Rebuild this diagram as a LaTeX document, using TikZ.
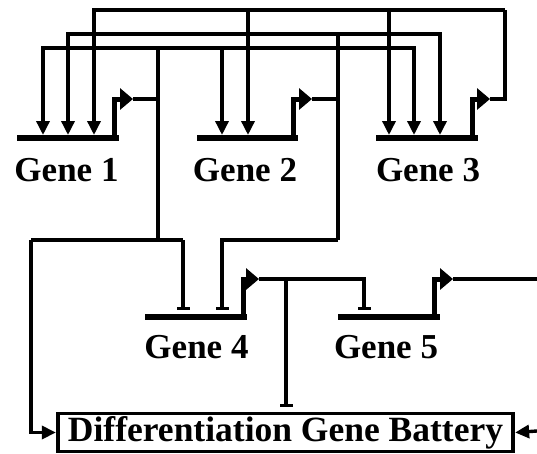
\documentclass[tikz,border=0pt]{standalone}
\usepackage{fontspec}
\setmainfont{Liberation Serif}
\usetikzlibrary{arrows.meta}
\begin{document}
\begin{tikzpicture}[x=1pt,y=-1pt,
  wire/.style={line width=3.4pt},
  genebar/.style={line width=6.5pt},
  prom/.style={line width=5pt,-{Triangle[length=13pt,width=21pt]}},
  act/.style={wire,-{Triangle[length=14pt,width=13pt]}},
  inh/.style={wire,-{Bar[width=13pt]}},
  lab/.style={font=\fontsize{35}{40}\selectfont\bfseries,anchor=base,inner sep=0pt}]
\useasboundingbox (0,0) rectangle (537,453);

% ---- coordinates ----
% gene bars
\coordinate (g1L) at (17,138);  \coordinate (g1R) at (119,138);
\coordinate (g2L) at (197,138); \coordinate (g2R) at (298,138);
\coordinate (g3L) at (376,138); \coordinate (g3R) at (478,138);
\coordinate (g4L) at (145,317); \coordinate (g4R) at (247,317);
\coordinate (g5L) at (338,317); \coordinate (g5R) at (440,317);
% promoter feet and tips
\coordinate (g1f) at (114,138); \coordinate (g1tip) at (133,99);
\coordinate (g2f) at (293,138); \coordinate (g2tip) at (312,99);
\coordinate (g3f) at (472,138); \coordinate (g3tip) at (490,99);
\coordinate (g4f) at (243,317); \coordinate (g4tip) at (259,279);
\coordinate (g5f) at (434,317); \coordinate (g5tip) at (453,279);
% inputs (activation)
\coordinate (g1in1) at (43,135);  \coordinate (g1in2) at (68,135);  \coordinate (g1in3) at (94,135);
\coordinate (g2in1) at (222,135); \coordinate (g2in2) at (248,135);
\coordinate (g3in1) at (389,135); \coordinate (g3in2) at (414,135); \coordinate (g3in3) at (440,135);
% inputs (repression)
\coordinate (g4i1) at (183,310); \coordinate (g4i2) at (222,310);
\coordinate (g5i) at (364,310);
\coordinate (bT) at (286,407);
% junctions
\coordinate (j1top) at (158,48);  \coordinate (j1low) at (158,240);
\coordinate (j2top) at (338,34);  \coordinate (j2low) at (338,240);
\coordinate (j3top) at (505,10);
\coordinate (c31) at (31,240);    \coordinate (c183) at (183,240);
\coordinate (g4br) at (286,279);
\coordinate (g5end) at (537,279);
\coordinate (rin) at (537,431);

% ---- genes ----
\foreach \g in {1,...,5} {
  \draw[genebar] (g\g L) -- (g\g R);
  \draw[prom] (g\g f) |- (g\g tip);
}
\node[lab] (l1) at (66.5,181) {Gene 1};
\node[lab] (l2) at (245,181) {Gene 2};
\node[lab] (l3) at (428,181) {Gene 3};
\node[lab] (l4) at (196.5,358) {Gene 4};
\node[lab] (l5) at (386,358) {Gene 5};

% ---- battery box ----
\node[draw,line width=3.8pt,minimum width=455.5pt,minimum height=38pt,
      inner sep=0pt,text height=24pt,text depth=6pt,
      font=\fontsize{35.5}{40}\selectfont\bfseries] (bat) at (285.5,432.5)
      {Differentiation Gene Battery};

% ---- Gene 1 output ----
\draw[wire] (g1tip) -| (j1top);
\draw[wire] (j1top) -- (j1low);
\draw[act] (j1top) -| (g1in1);
\draw[act] (j1top) -| (g3in2);
\draw[act] (g2in1 |- j1top) -- (g2in1);
\draw[wire] (c31) -- (c183);
\draw[inh] (c183) -- (g4i1);
\draw[act] (c31) |- (bat.west);

% ---- Gene 2 output ----
\draw[wire] (g2tip) -| (j2top);
\draw[wire] (j2top) -- (j2low);
\draw[act] (j2top) -| (g1in2);
\draw[act] (j2top) -| (g3in3);
\draw[inh] (j2low) -| (g4i2);

% ---- Gene 3 output ----
\draw[wire] (g3tip) -| (j3top);
\draw[act] (j3top) -| (g1in3);
\draw[act] (g2in2 |- j3top) -- (g2in2);
\draw[act] (g3in1 |- j3top) -- (g3in1);

% ---- Gene 4 output ----
\draw[inh] (g4tip) -| (g5i);
\draw[inh] (g4br) -- (bT);

% ---- Gene 5 output ----
\draw[wire] (g5tip) -- (g5end);
\draw[act] (rin) -- (bat.east);
\end{tikzpicture}
\end{document}
